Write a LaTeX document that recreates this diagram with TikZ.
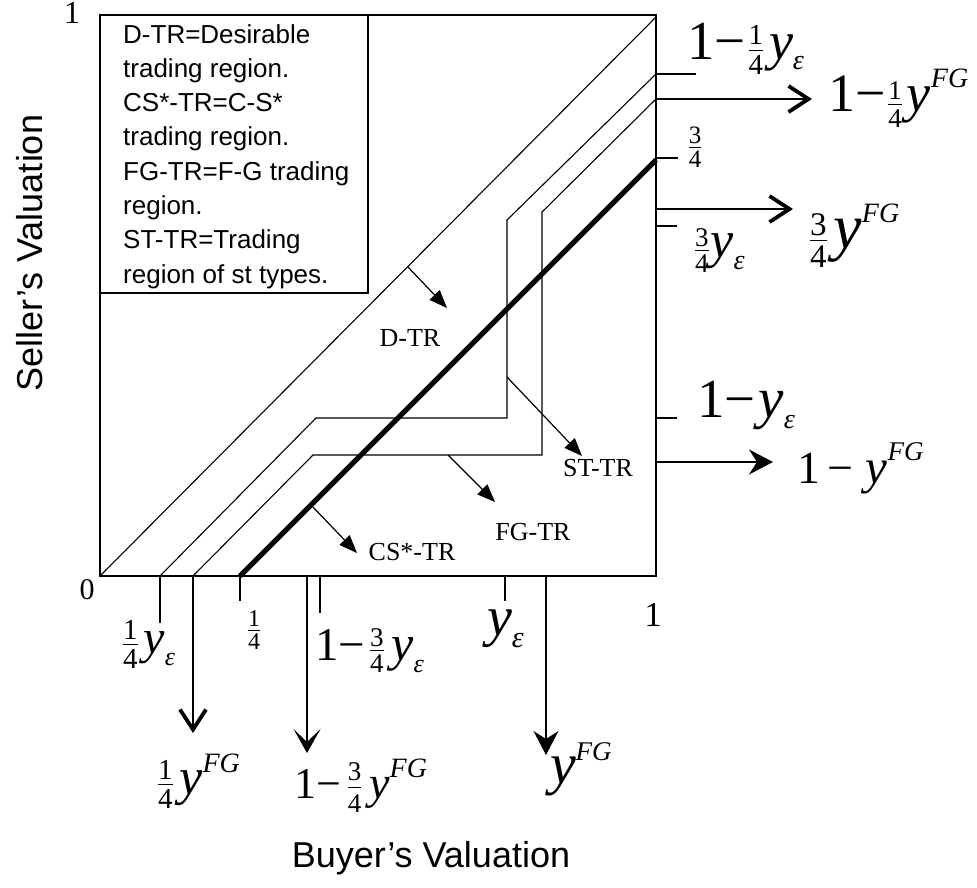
\documentclass[tikz,border=0pt]{standalone}
\usepackage{fontspec}
\setmainfont{Liberation Serif}
\newfontfamily\sansf{Liberation Sans}
\usetikzlibrary{arrows.meta}
\newcommand\fs[1]{\fontsize{#1}{#1}\selectfont}
\newcommand\vfrac[5]{\raisebox{#4}{\fs{#1}\vbox{\offinterlineskip\halign{\hfil##\hfil\cr #2\cr\noalign{\kern#5\hrule height 1pt\kern#5}#3\cr}}}}
\newcommand\yv[1]{{\fs{#1}\itshape y}}
\newcommand\eps[2]{\raisebox{#2}{\fs{#1}\itshape ε}}
\newcommand\FG[2]{\raisebox{#2}{\fs{#1}\itshape FG}}
\newcommand\one[1]{{\fs{#1}1}}
\newcommand\mns[1]{{\fs{#1}−}}
\tikzset{
  boxline/.style={line width=1.6pt},
  thinline/.style={line width=1.1pt},
  thickline/.style={line width=5pt},
  tickline/.style={line width=1.4pt},
  openarrow/.style={line width=1.5pt,-{Straight Barb[length=20pt,width=26pt,line width=3.8pt]}},
  notcharrow/.style={line width=1.5pt,-{Stealth[length=24pt,width=27pt,inset=13pt]}},
  solidarrow/.style={line width=1.5pt,-{Stealth[length=24pt,width=25pt,inset=8pt]}},
  regarrow/.style={line width=1.2pt,-{Triangle[length=18pt,width=14pt]}},
  lab/.style={inner sep=0pt,outer sep=0pt,anchor=base west},
  reglab/.style={inner sep=0pt,font=\fs{26}},
  axislabel/.style={inner sep=0pt,font=\sansf\fs{36}},
  legendtext/.style={inner sep=0pt,anchor=north west,align=left,font=\sansf\fontsize{26}{34.3}\selectfont}
}
\begin{document}
\begin{tikzpicture}[x=1pt,y=-1pt]
\useasboundingbox (0,0) rectangle (977,888);
% square
\coordinate (sqTL) at (100,15);
\coordinate (sqBR) at (656,576);
\draw[boxline] (sqTL) rectangle (sqBR);
% legend box
\coordinate (lgBR) at (368,293);
\draw[boxline] (sqTL) rectangle (lgBR);
\node[legendtext] (legend) at (123,24) {D-TR=Desirable\\trading region.\\CS*-TR=C-S*\\trading region.\\FG-TR=F-G trading\\region.\\ST-TR=Trading\\region of st types.};
% main diagonal
\coordinate (a0) at (100,576);
\coordinate (a1) at (656,17);
\draw[thinline] (a0) -- (a1);
% curve b
\coordinate (b0) at (160,576);
\coordinate (b1) at (316,418);
\coordinate (b2) at (507,418);
\coordinate (b3) at (507,220);
\coordinate (b4) at (656,74);
\draw[thinline] (b0) -- (b1) -- (b2) -- (b3) -- (b4);
% curve c
\coordinate (c0) at (193,576);
\coordinate (c1) at (313,455);
\coordinate (c2) at (542,455);
\coordinate (c3) at (542,212);
\coordinate (c4) at (656,99);
\draw[thinline] (c0) -- (c1) -- (c2) -- (c3) -- (c4);
% thick line
\coordinate (t0) at (240,576);
\coordinate (t1) at (656,160);
\draw[thickline] (t0) -- (t1);
% right ticks and arrows
\coordinate (r1e) at (696,74);
\draw[tickline] (b4) -- (r1e);
\coordinate (r2e) at (812,99);
\draw[openarrow] (c4) -- (r2e);
\coordinate (r3s) at (656,158); \coordinate (r3e) at (678,158);
\draw[tickline] (r3s) -- (r3e);
\coordinate (r4s) at (656,209); \coordinate (r4e) at (793,209);
\draw[openarrow] (r4s) -- (r4e);
\coordinate (r5s) at (656,226); \coordinate (r5e) at (677,226);
\draw[tickline] (r5s) -- (r5e);
\coordinate (r6s) at (656,418); \coordinate (r6e) at (677,418);
\draw[tickline] (r6s) -- (r6e);
\coordinate (r7s) at (656,462); \coordinate (r7e) at (773,462);
\draw[solidarrow] (r7s) -- (r7e);
% bottom ticks and arrows
\coordinate (d1e) at (160,623);
\draw[tickline] (b0) -- (d1e);
\coordinate (d2e) at (193,733);
\draw[openarrow] (c0) -- (d2e);
\coordinate (d3e) at (240,601);
\draw[tickline] (t0) -- (d3e);
\coordinate (d4s) at (307,576); \coordinate (d4e) at (307,753);
\draw[notcharrow] (d4s) -- (d4e);
\coordinate (d5s) at (320,576); \coordinate (d5e) at (320,613);
\draw[tickline] (d5s) -- (d5e);
\coordinate (d6s) at (505,576); \coordinate (d6e) at (505,601);
\draw[tickline] (d6s) -- (d6e);
\coordinate (d7s) at (546,576); \coordinate (d7e) at (546,755);
\draw[solidarrow] (d7s) -- (d7e);
% region arrows
\coordinate (dtrs) at (408,267); \coordinate (dtre) at (447,308);
\draw[regarrow] (dtrs) -- (dtre);
\coordinate (strs) at (507,377); \coordinate (stre) at (582,456);
\draw[regarrow] (strs) -- (stre);
\coordinate (fgrs) at (448,455); \coordinate (fgre) at (495,502);
\draw[regarrow] (fgrs) -- (fgre);
\coordinate (csrs) at (311,505); \coordinate (csre) at (357,553);
\draw[regarrow] (csrs) -- (csre);
% region labels
\node[reglab] (dtr) at (410,338) {D-TR};
\node[reglab] (str) at (598,468) {ST-TR};
\node[reglab] (fgtr) at (533,532) {FG-TR};
\node[reglab] (cstr) at (412,552) {CS*-TR};
% corner labels
\node[inner sep=0pt,font=\fs{32}] (one1) at (72,13) {1};
\node[inner sep=0pt,font=\fs{30}] (zero) at (87,590) {0};
\node[inner sep=0pt,font=\fs{35}] (one2) at (653,615) {1};
% right labels
\node[lab] (R1) at (687,60) {\one{55}\mns{55}\hspace{3pt}\vfrac{29}{1}{4}{-15pt}{5pt}\hspace{6pt}\yv{54}\eps{28}{-10pt}};
\node[lab] (R2) at (828,112) {\one{54}\mns{54}\hspace{3pt}\vfrac{27}{1}{4}{-16pt}{5pt}\hspace{5pt}\yv{54}\FG{28}{24pt}};
\node[inner sep=0pt] (R3) at (695,147) {\vfrac{25}{3}{4}{0pt}{3pt}};
\node[lab] (R4) at (810,248) {\vfrac{33}{3}{4}{-19pt}{4pt}\hspace{7pt}\yv{64}\FG{28}{26pt}};
\node[lab] (R5) at (695,257) {\vfrac{27}{3}{4}{-15pt}{3pt}\hspace{2pt}\yv{52}\eps{28}{-12pt}};
\node[lab] (R6) at (697,417) {\one{55}\mns{55}\hspace{3pt}\yv{57}\eps{28}{-11pt}};
\node[lab] (R7) at (797,483) {\one{46}\hspace{8pt}\mns{46}\hspace{12pt}\yv{49}\FG{27}{23pt}};
% bottom labels
\node[lab] (B1) at (123,653) {\vfrac{29}{1}{4}{-15pt}{4pt}\hspace{6pt}\yv{48}\eps{26}{-12pt}};
\node[inner sep=0pt] (B2) at (254,630) {\vfrac{24}{1}{4}{0pt}{3pt}};
\node[lab] (B3) at (315,660) {\one{47}\mns{47}\hspace{5pt}\vfrac{27}{3}{4}{-12pt}{3pt}\hspace{8pt}\yv{50}\eps{26}{-12pt}};
\node[lab] (B4) at (294,798) {\one{44}\mns{44}\hspace{7pt}\vfrac{27}{3}{4}{-14pt}{6pt}\hspace{8pt}\yv{46}\FG{28}{21pt}};
\node[lab] (B5) at (487,635) {\yv{56}\eps{30}{-12pt}};
\node[lab] (B6) at (550,783) {\yv{58}\FG{27}{23pt}};
\node[lab] (B7) at (158,794) {\vfrac{29}{1}{4}{-14pt}{4pt}\hspace{7pt}\yv{52}\FG{28}{22pt}};
% axis labels
\node[axislabel,rotate=90] (sv) at (30,253) {Seller’s Valuation};
\node[axislabel] (bv) at (431,858) {Buyer’s Valuation};
\end{tikzpicture}
\end{document}
